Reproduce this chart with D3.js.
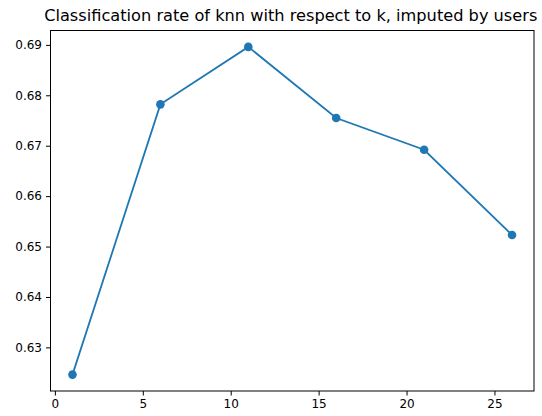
<!DOCTYPE html>
<html>
<head>
<meta charset="utf-8">
<script src="https://cdn.jsdelivr.net/npm/d3@7"></script>
<style>
  body { margin: 0; background: #fff; }
  svg { font-family: "DejaVu Sans", sans-serif; }
</style>
</head>
<body>
<svg width="542" height="416"></svg>
<script>
// Data
let kValues = [1, 6, 11, 16, 21, 26];
let rates = [0.6246, 0.6782, 0.6896, 0.6755, 0.6692, 0.6523];
let xTicks = [0, 5, 10, 15, 20, 25];
let yTicks = [0.63, 0.64, 0.65, 0.66, 0.67, 0.68, 0.69];
let titleText = "Classification rate of knn with respect to k, imputed by users";

let svg = d3.select("svg"),
  margin = { top: 30.5, right: 8, bottom: 25, left: 50.5 },
  width = svg.attr("width") - margin.left - margin.right,
  height = svg.attr("height") - margin.top - margin.bottom,
  g = svg.append("g").attr("transform", "translate(" + margin.left + "," + margin.top + ")");

let color = "#1f77b4";

// matplotlib style 5% margins
function padded(ext) {
  let r = ext[1] - ext[0];
  return [ext[0] - 0.05 * r, ext[1] + 0.05 * r];
}

let x = d3.scaleLinear().domain(padded(d3.extent(kValues))).range([0, width]);
let y = d3.scaleLinear().domain(padded(d3.extent(rates))).range([height, 0]);

// Axes
let xAxis = g.append("g")
  .attr("transform", "translate(0," + height + ")")
  .call(d3.axisBottom(x).tickValues(xTicks).tickFormat(d3.format("d")).tickSize(4.5).tickPadding(4));

let yAxis = g.append("g")
  .call(d3.axisLeft(y).tickValues(yTicks).tickFormat(d3.format(".2f")).tickSize(4.5).tickPadding(4));

[xAxis, yAxis].forEach(a => {
  a.select(".domain").remove();
  a.selectAll("text").style("font-size", "12px").style("font-family", "DejaVu Sans").attr("fill", "#000");
  a.selectAll("line").attr("stroke", "#000").attr("stroke-width", 1);
});

// Frame
g.append("rect")
  .attr("x", 0)
  .attr("y", 0)
  .attr("width", width)
  .attr("height", height)
  .attr("fill", "none")
  .attr("stroke", "#000")
  .attr("stroke-width", 1);

// Line
let points = kValues.map((k, i) => [k, rates[i]]);
g.append("path")
  .datum(points)
  .attr("fill", "none")
  .attr("stroke", color)
  .attr("stroke-width", 1.8)
  .attr("d", d3.line().x(d => x(d[0])).y(d => y(d[1])));

// Markers
g.selectAll("circle.pt")
  .data(points)
  .enter()
  .append("circle")
  .attr("class", "pt")
  .attr("cx", d => x(d[0]))
  .attr("cy", d => y(d[1]))
  .attr("r", 4.3)
  .attr("fill", color);

// Title
g.append("text")
  .attr("x", width / 2 - 1.5)
  .attr("y", -10)
  .attr("text-anchor", "middle")
  .style("font-size", "16.2px")
  .attr("fill", "#000")
  .text(titleText);
</script>
</body>
</html>
